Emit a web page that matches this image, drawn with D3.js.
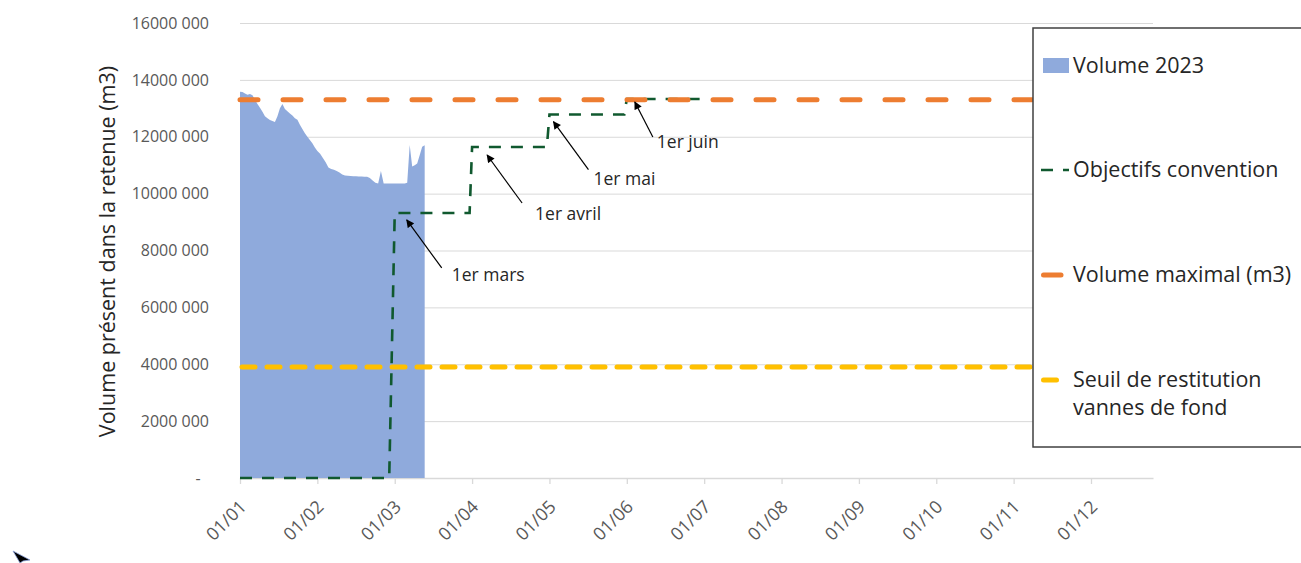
<!DOCTYPE html>
<html><head><meta charset="utf-8">
<script src="https://cdn.jsdelivr.net/npm/d3@7"></script>
<style>
body{margin:0;background:#fff;}
svg{display:block;font-family:"Open Sans",sans-serif;}
</style></head><body>
<svg id="chart" width="1301" height="563"></svg>
<script>
// ---------- DATA ----------
const volumeStart = "2023-01-01"; // daily values from this date
const volumeValues = [
  13580000,13570000,13520000,13480000,13500000,13460000,13300000,13150000,13020000,12880000,
  12720000,12650000,12590000,12550000,12520000,12720000,13000000,13150000,12980000,12900000,
  12820000,12750000,12650000,12600000,12420000,12270000,12120000,12000000,11890000,11770000,11620000,
  11500000,11400000,11250000,11100000,10920000,10870000,10840000,10800000,10740000,10670000,
  10640000,10630000,10620000,10610000,10610000,10600000,10600000,10590000,10590000,10550000,
  10460000,10380000,10360000,10800000,10360000,10360000,10360000,10360000,
  10360000,10360000,10360000,10360000,10360000,10380000,11710000,10950000,11000000,11060000,
  11350000,11650000,11700000
];
const objectiveDates = ["2023-01-01","2023-02-27","2023-03-01","2023-03-31","2023-04-01","2023-04-30","2023-05-01","2023-05-31","2023-06-01","2023-06-30"];
const objectiveValues = [0,0,9320000,9320000,11640000,11640000,12780000,12780000,13330000,13330000];
const maxVolume = 13300000;
const restitutionThreshold = 3900000;
const yTickValues = [0,2000000,4000000,6000000,8000000,10000000,12000000,14000000,16000000];
const xTickLabels = ["01/01","01/02","01/03","01/04","01/05","01/06","01/07","01/08","01/09","01/10","01/11","01/12"];
const annotationLabels = ["1er mars","1er avril","1er mai","1er juin"];
const annotationDates = ["2023-03-01","2023-04-01","2023-05-01","2023-06-01"];
const annotationValues = [9320000,11640000,12780000,13330000];
const legendLabels = ["Volume 2023","Objectifs convention","Volume maximal (m3)","Seuil de restitution|vannes de fond"];
const yAxisTitle = "Volume présent dans la retenue (m3)";

// ---------- LAYOUT ----------
const L = 240, R = 1153, T = 23, B = 478;
const lastTickX = 1091;
const colors = {area:"#8FAADC", green:"#10592f", orange:"#ED7D31", yellow:"#FFC000", grid:"#d9d9d9", tick:"#595959", text:"#262626"};
const parse = d3.timeParse("%Y-%m-%d");

const svg = d3.select("#chart");

const monthStarts = d3.timeMonth.range(new Date(2023,0,1), new Date(2023,11,2));
const axisEnd = new Date(2023,11,25);
const step = (lastTickX - L) / (monthStarts.length - 1);
const x = d3.scaleTime()
  .domain([...monthStarts, axisEnd])
  .range([...monthStarts.map((d,i)=>L + i*step), R]);
const y = d3.scaleLinear().domain([0,16000000]).range([B,T]);

// gridlines + y labels
const fmtY = d => {
  if (d === 0) return "-\u00a0\u00a0";
  const s = String(d);
  return s.slice(0,-3) + " " + s.slice(-3);
};
const yAxis = svg.append("g").attr("transform",`translate(${L},0)`)
  .call(d3.axisLeft(y).tickValues(yTickValues).tickFormat(fmtY).tickSize(-(R-L)).tickPadding(31));
yAxis.select(".domain").remove();
yAxis.selectAll(".tick line").attr("stroke",colors.grid).attr("stroke-width",1);
yAxis.selectAll(".tick text").attr("fill",colors.tick).attr("font-size",16).attr("font-family","Open Sans");

// x axis
const xAxis = svg.append("g").attr("transform",`translate(0,${B})`)
  .call(d3.axisBottom(x).tickValues(monthStarts).tickFormat((d,i)=>xTickLabels[i]).tickSize(6).tickSizeOuter(0));
xAxis.select(".domain").attr("stroke",colors.grid).attr("stroke-width",1.3);
xAxis.selectAll(".tick line").attr("stroke",colors.grid).attr("stroke-width",1.3);
xAxis.selectAll(".tick text")
  .attr("fill",colors.tick).attr("font-size",18).attr("font-family","Open Sans")
  .attr("text-anchor","end").attr("dy",0).attr("y",0)
  .attr("transform","translate(7,30) rotate(-45)");

// area
const volumeData = volumeValues.map((v,i)=>({date:d3.timeDay.offset(parse(volumeStart),i), value:v}));
svg.append("path").datum(volumeData)
  .attr("fill",colors.area)
  .attr("d",d3.area().x(d=>x(d.date)).y0(y(0)).y1(d=>y(d.value)));

// objectives line
const objData = objectiveDates.map((d,i)=>({date:parse(d), value:objectiveValues[i]}));
svg.append("path").datum(objData)
  .attr("fill","none").attr("stroke",colors.green).attr("stroke-width",2.6)
  .attr("stroke-dasharray","12 10")
  .attr("d",d3.line().x(d=>x(d.date)).y(d=>y(d.value)));

// max volume
svg.append("line").attr("x1",L).attr("x2",R).attr("y1",y(maxVolume)).attr("y2",y(maxVolume))
  .attr("stroke",colors.orange).attr("stroke-width",5).attr("stroke-linecap","round")
  .attr("stroke-dasharray","18 25");
// threshold
svg.append("line").attr("x1",L+2).attr("x2",R).attr("y1",y(restitutionThreshold)).attr("y2",y(restitutionThreshold))
  .attr("stroke",colors.yellow).attr("stroke-width",5).attr("stroke-linecap","round")
  .attr("stroke-dasharray","13 12");

// annotations
const defs = svg.append("defs");
defs.append("marker").attr("id","arr").attr("viewBox","0 0 10 10").attr("refX",9).attr("refY",5)
  .attr("markerWidth",9).attr("markerHeight",8).attr("markerUnits","userSpaceOnUse").attr("orient","auto")
  .append("path").attr("d","M0,0 L10,5 L0,10 z").attr("fill","#000");
const annLayout = [
  {tip:[12,7], tail:[35,48], label:[45,61]},
  {tip:[15,8], tail:[35,48], label:[48,65]},
  {tip:[4,7],  tail:[35,48], label:[40,63]},
  {tip:[8,3],  tail:[18,35], label:[22,46]}
];
annotationLabels.forEach((lab,i)=>{
  const cx = x(parse(annotationDates[i])), cy = y(annotationValues[i]);
  const lay = annLayout[i];
  const tx = cx + lay.tip[0], ty = cy + lay.tip[1];
  svg.append("line").attr("x1",tx+lay.tail[0]).attr("y1",ty+lay.tail[1]).attr("x2",tx).attr("y2",ty)
    .attr("stroke","#000").attr("stroke-width",1.2).attr("marker-end","url(#arr)");
  svg.append("text").attr("x",tx+lay.label[0]).attr("y",ty+lay.label[1])
    .attr("font-size",17.5).attr("fill",colors.text).text(lab);
});

// y axis title
svg.append("text").attr("transform",`translate(115,${(440+63)/2}) rotate(-90)`)
  .attr("text-anchor","middle").attr("font-size",21.5).attr("fill",colors.text).text(yAxisTitle);

// legend
const lg = svg.append("g");
lg.append("rect").attr("x",1033).attr("y",28).attr("width",300).attr("height",419)
  .attr("fill","#fff").attr("stroke","#404040").attr("stroke-width",1.5);
const legendRows = [73,177,282,387];
lg.append("rect").attr("x",1043).attr("y",58).attr("width",26).attr("height",15).attr("fill",colors.area);
lg.append("line").attr("x1",1041).attr("x2",1069).attr("y1",170).attr("y2",170)
  .attr("stroke",colors.green).attr("stroke-width",2.6).attr("stroke-dasharray","12 10");
lg.append("line").attr("x1",1043.5).attr("x2",1061).attr("y1",275).attr("y2",275)
  .attr("stroke",colors.orange).attr("stroke-width",5).attr("stroke-linecap","round").attr("stroke-dasharray","18 25");
lg.append("line").attr("x1",1043.5).attr("x2",1068.5).attr("y1",380).attr("y2",380)
  .attr("stroke",colors.yellow).attr("stroke-width",5).attr("stroke-linecap","round").attr("stroke-dasharray","13 12");
legendLabels.forEach((lab,i)=>{
  const t = lg.append("text").attr("x",1073).attr("y",legendRows[i]).attr("font-size",21.5).attr("fill",colors.text);
  lab.split("|").forEach((line,j)=>{
    t.append("tspan").attr("x",1073).attr("dy",j===0?0:28).text(line);
  });
});

// small cursor artefact bottom-left
svg.append("path").attr("d","M13,551 L30,560 L23,561 L20,563 Z").attr("fill","#000").attr("stroke","#8aa0d8").attr("stroke-width",0.8);
</script>
</body></html>
